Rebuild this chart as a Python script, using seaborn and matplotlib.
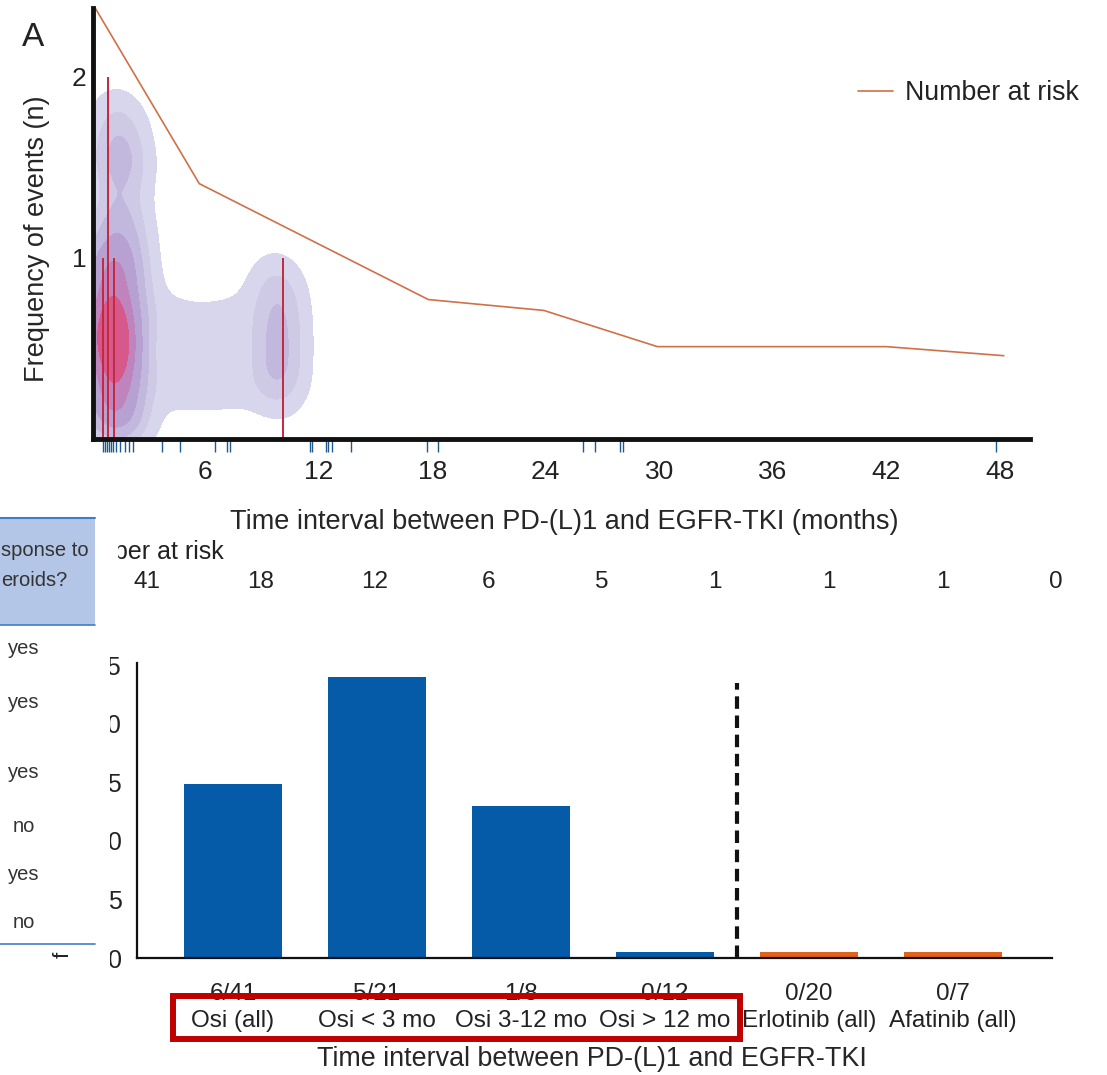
import numpy as np
import pandas as pd
import seaborn as sns
import matplotlib
matplotlib.use("Agg")
import matplotlib.pyplot as plt
from matplotlib.colors import LinearSegmentedColormap
from matplotlib.patches import Rectangle
from matplotlib.lines import Line2D
from matplotlib.transforms import Bbox, TransformedBbox

# ------------------------------------------------------------------ data
risk_line_months = [0.2, 5.7, 17.8, 23.9, 29.9, 42.0, 48.2]
risk_line_level = [2.38, 1.41, 0.77, 0.71, 0.51, 0.51, 0.46]

event_months = [0.6, 0.9, 1.2, 10.1]
event_counts = [1, 2, 1, 1]

rug_months = [0.61, 0.72, 0.82, 0.93, 1.03, 1.14, 1.3, 1.5, 1.77, 1.98, 2.2,
              3.74, 4.68, 6.53, 7.16, 7.32, 11.55, 11.65, 12.39, 12.5, 12.71,
              13.71, 17.73, 18.31, 25.97, 26.6, 27.92, 28.08, 47.8]

kde_months = [0.6, 1.2, 1.8, 0.6, 1.2, 1.8, 0.6, 1.2, 1.8, 0.6, 1.2, 1.8,
              0.6, 1.2, 1.8, 1.2, 1.2, 0.9,
              1.2, 1.8, 1.5, 1.2, 1.8, 1.5,
              3.8, 4.8, 5.8, 6.8, 7.8, 3.8, 4.8, 5.8, 6.8, 7.8,
              9.6, 10.0, 9.7, 10.0, 9.8, 9.9]
kde_freq = [0.15, 0.15, 0.15, 0.35, 0.35, 0.35, 0.55, 0.55, 0.55, 0.75, 0.75, 0.75,
            0.95, 0.95, 0.95, 0.45, 0.65, 0.55,
            1.15, 1.15, 1.35, 1.55, 1.55, 1.75,
            0.3, 0.3, 0.3, 0.3, 0.3, 0.68, 0.62, 0.6, 0.62, 0.68,
            0.3, 0.38, 0.5, 0.6, 0.72, 0.85]
kde_weight = [1, 1, 1, 1, 1, 1, 1, 1, 1, 1, 1, 1,
              1, 1, 1, 1, 1, 1,
              0.7, 0.7, 0.7, 0.7, 0.7, 0.7,
              0.2, 0.2, 0.2, 0.2, 0.2, 0.2, 0.2, 0.2, 0.2, 0.2,
              0.6, 0.6, 0.6, 0.6, 0.6, 0.6]

top_xticks = [6, 12, 18, 24, 30, 36, 42, 48]
top_yticks = [1, 2]

risk_table_months = [0, 6, 12, 18, 24, 30, 36, 42, 48]
risk_table_counts = [41, 18, 12, 6, 5, 1, 1, 1, 0]

steroid_answers = ["yes", "yes", "yes", "no", "yes", "no"]

bar_groups = ["Osi (all)", "Osi < 3 mo", "Osi 3-12 mo", "Osi > 12 mo",
              "Erlotinib (all)", "Afatinib (all)"]
bar_fractions = ["6/41", "5/21", "1/8", "0/12", "0/20", "0/7"]
bar_values = [14.9, 24.0, 13.0, 0.5, 0.5, 0.5]
bar_drug = ["Osimertinib", "Osimertinib", "Osimertinib", "Osimertinib",
            "Erlotinib", "Afatinib"]
bar_yticks = [0, 5, 10, 15, 20, 25]

# ------------------------------------------------------------------ style
sns.set_style("white")
plt.rcParams["font.family"] = ["Liberation Sans", "DejaVu Sans"]
TXT = "#222222"
plt.rcParams["text.color"] = TXT

W, H = 1107, 1075
fig = plt.figure(figsize=(W / 100, H / 100), dpi=100)


def fx(px):
    return px / W


def fy(py):
    return 1 - py / H


# ------------------------------------------------------------------ top panel
ax1 = fig.add_axes([fx(93.3), fy(439), 937 / W, 431 / H])
kde_cmap = LinearSegmentedColormap.from_list(
    "kde", ["#dcdcef", "#c7c0e1", "#b6a3d4", "#bd88c2", "#d2649a", "#e3406d"])
sns.kdeplot(x=kde_months, y=kde_freq, weights=kde_weight, fill=True, levels=7,
            thresh=0.04, bw_adjust=0.55, cmap=kde_cmap, ax=ax1, zorder=1)
ax1.vlines(event_months, 0, event_counts, color="#c4283e", lw=1.4, zorder=3)
sns.lineplot(x=risk_line_months, y=risk_line_level, ax=ax1, color="#d07048",
             lw=1.2, label="Number at risk", zorder=4)
sns.rugplot(x=rug_months, ax=ax1, height=-0.03, clip_on=False,
            color="#1f5a8a", lw=2.0, expand_margins=False)
ax1.set_xlim(0.1, 49.6)
ax1.set_ylim(0, 2.38)
ax1.set_xticks(top_xticks)
ax1.set_yticks(top_yticks)
ax1.tick_params(axis="both", length=0, labelsize=19, colors=TXT)
ax1.tick_params(axis="x", pad=15)
ax1.tick_params(axis="y", pad=5)
for s in ["top", "right"]:
    ax1.spines[s].set_visible(False)
for s in ["left", "bottom"]:
    ax1.spines[s].set_linewidth(3.5)
    ax1.spines[s].set_color("#111111")
    ax1.spines[s].set_zorder(5)
ax1.set_xlabel("Time interval between PD-(L)1 and EGFR-TKI (months)", fontsize=19.5)
ax1.xaxis.set_label_coords(0.503, -0.163)
ax1.set_ylabel("Frequency of events (n)", fontsize=19.5)
ax1.yaxis.set_label_coords(-0.046, 0.465)
ax1.legend(loc="center left", bbox_to_anchor=(fx(858), fy(93)),
           bbox_transform=fig.transFigure, frameon=False, fontsize=19.3,
           handlelength=1.3, handletextpad=0.45, borderpad=0, borderaxespad=0)
fig.text(fx(33), fy(37), "A", fontsize=24, ha="center", va="center")

# ------------------------------------------------------------------ number at risk row
ax_r = fig.add_axes([fx(93.3 + 56), fy(600), 937 / W, 36 / H])
ax_r.set_xlim(0.1, 49.6)
ax_r.set_ylim(0, 1)
ax_r.axis("off")
for m, c in zip(risk_table_months, risk_table_counts):
    ax_r.text(m, 0.5, str(c), ha="center", va="center", fontsize=17.5, clip_on=False)

t_nar = fig.text(fx(114), fy(552), "ber at risk", ha="left", va="center", fontsize=18)
t_nar.set_clip_box(TransformedBbox(Bbox.from_extents(fx(118), 0, 1, 1), fig.transFigure))
t_nar.set_clip_on(True)

# ------------------------------------------------------------------ table fragment
fig.add_artist(Rectangle((0, fy(625)), fx(95), (625 - 518) / H,
                         transform=fig.transFigure, facecolor="#b4c6e7",
                         edgecolor="none", zorder=0))
fig.add_artist(Line2D([0, fx(95)], [fy(518), fy(518)], color="#3f7fc6", lw=1.5))
fig.add_artist(Line2D([0, fx(95)], [fy(625), fy(625)], color="#3f7fc6", lw=1.2))
fig.add_artist(Line2D([0, fx(95)], [fy(944), fy(944)], color="#3f7fc6", lw=1.2))
fig.text(fx(1), fy(551), "sponse to", ha="left", va="center", fontsize=14.5, color="#333333")
fig.text(fx(1), fy(580), "eroids?", ha="left", va="center", fontsize=14.5, color="#333333")
row_y = [648, 703, 772, 827, 875, 923]
for ans, py in zip(steroid_answers, row_y):
    fig.text(fx(24), fy(py), ans, ha="center", va="center", fontsize=14.5, color="#333333")
fig.text(fx(63), fy(955), "f", rotation=90, ha="center", va="center", fontsize=16)

# ------------------------------------------------------------------ bar panel
ax2 = fig.add_axes([fx(137), fy(958), 915 / W, 295 / H])
df = pd.DataFrame({"group": bar_groups, "value": bar_values, "drug": bar_drug})
sns.barplot(data=df, x="group", y="value", hue="drug", dodge=False,
            palette={"Osimertinib": "#055ba8", "Erlotinib": "#e0621c",
                     "Afatinib": "#e0621c"},
            width=0.68, legend=False, ax=ax2, linewidth=0, saturation=1)
ax2.vlines([3.5], 0, 23.5, colors="#111111", linestyles=(0, (3, 1.6)), lw=3)
ax2.set_xlim(-0.667, 5.69)
ax2.set_ylim(0, 25.2)
ax2.set_yticks(bar_yticks)
ax2.set_xticks(range(len(bar_groups)))
ax2.set_xticklabels([f"{f}\n{g}" for f, g in zip(bar_fractions, bar_groups)],
                    linespacing=1.3)
ax2.tick_params(axis="both", direction="out", length=5, width=1.5,
                colors="#111111", labelcolor=TXT)
ax2.tick_params(axis="x", pad=13, labelsize=17.5)
ax2.tick_params(axis="y", pad=6, labelsize=18)
for s in ["top", "right"]:
    ax2.spines[s].set_visible(False)
for s in ["left", "bottom"]:
    ax2.spines[s].set_linewidth(1.6)
    ax2.spines[s].set_color("#111111")
ax2.set_xlabel("Time interval between PD-(L)1 and EGFR-TKI", fontsize=19.4)
ax2.xaxis.set_label_coords(0.497, -0.298)
ax2.set_ylabel("")
clip_bar = TransformedBbox(Bbox.from_extents(fx(110), 0, 1, 1), fig.transFigure)
for lbl in ax2.get_yticklabels():
    lbl.set_clip_box(clip_bar)
    lbl.set_clip_on(True)

fig.add_artist(Rectangle((fx(173), fy(1039)), (740 - 173) / W, (1039 - 996) / H,
                         transform=fig.transFigure, fill=False,
                         edgecolor="#c00000", lw=4.3, zorder=10))

fig.savefig("out.png", dpi=100)
